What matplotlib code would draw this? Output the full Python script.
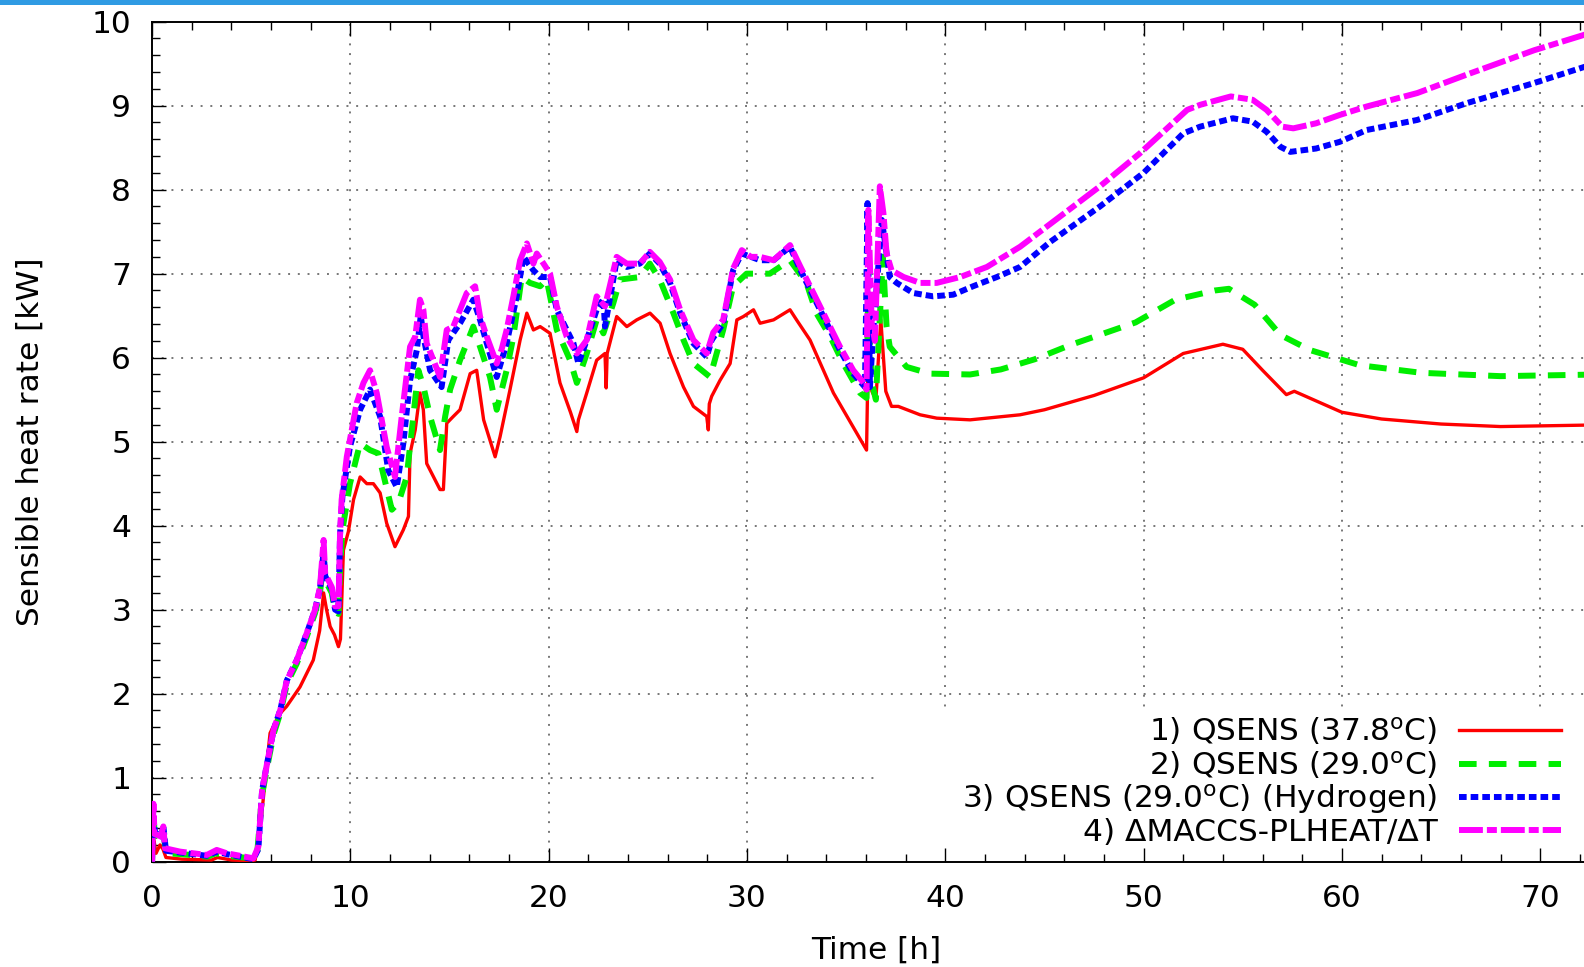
import numpy as np
import matplotlib
matplotlib.use('Agg')
import matplotlib.pyplot as plt
from matplotlib.patches import Rectangle
from matplotlib.ticker import MultipleLocator

plt.rcParams['font.family'] = ['DejaVu Sans']
plt.rcParams['mathtext.fontset'] = 'dejavusans'

# (czas [h], moc [kW])
red_pts = [
    (0, 0.0), (0.1, 0.25), (0.2, 0.1), (0.4, 0.2), (0.55, 0.15), (0.7, 0.05),
    (1.5, 0.03), (3.0, 0.02), (3.3, 0.05), (4.0, 0.02), (5.0, 0.01), (5.2, 0.02),
    (5.5, 0.5), (5.95, 1.53), (6.4, 1.75), (6.79, 1.85), (7.46, 2.08), (8.13, 2.40),
    (8.45, 2.75), (8.65, 3.2), (8.8, 3.0), (8.98, 2.80), (9.2, 2.7), (9.4, 2.56),
    (9.5, 2.65), (9.65, 3.71), (9.9, 3.93), (10.16, 4.31), (10.49, 4.58), (10.83, 4.50),
    (11.16, 4.50), (11.5, 4.39), (11.83, 4.03), (12.25, 3.75), (12.67, 3.95), (12.93, 4.11),
    (13.01, 4.86), (13.27, 5.14), (13.51, 5.58), (13.68, 5.38), (13.85, 4.74), (14.52, 4.43),
    (14.69, 4.43), (14.86, 5.22), (15.19, 5.30), (15.53, 5.38), (16.04, 5.81), (16.37, 5.85),
    (16.72, 5.26), (17.3, 4.82), (17.55, 5.06), (18.05, 5.62), (18.56, 6.21), (18.9, 6.53),
    (19.23, 6.33), (19.57, 6.37), (20.07, 6.29), (20.57, 5.70), (21.1, 5.35), (21.42, 5.12),
    (21.5, 5.26), (21.92, 5.58), (22.42, 5.97), (22.84, 6.05), (22.9, 5.64), (22.95, 6.05),
    (23.43, 6.49), (23.94, 6.37), (24.44, 6.45), (25.11, 6.53), (25.62, 6.41), (26.12, 6.05),
    (26.8, 5.65), (27.3, 5.42), (27.97, 5.30), (28.05, 5.14), (28.1, 5.45), (28.22, 5.54),
    (28.64, 5.73), (29.15, 5.93), (29.49, 6.45), (29.82, 6.49), (30.33, 6.57), (30.66, 6.41),
    (31.34, 6.45), (32.17, 6.57), (32.5, 6.45), (33.18, 6.21), (34.36, 5.58), (36.03, 4.90),
    (36.1, 5.9), (36.3, 5.6), (36.5, 5.5), (36.75, 6.45), (37.0, 5.6), (37.29, 5.42),
    (37.63, 5.42), (38.73, 5.32), (39.57, 5.28), (41.25, 5.26), (43.77, 5.32), (45, 5.38),
    (47.5, 5.55), (50, 5.76), (52, 6.05), (54, 6.16), (55, 6.1), (56, 5.85),
    (57.2, 5.56), (57.6, 5.6), (60, 5.35), (62, 5.27), (65, 5.21), (68, 5.18), (73, 5.2),
]

green_pts = [
    (0, 0.0), (0.05, 0.6), (0.15, 0.3), (0.4, 0.35), (0.55, 0.4), (0.7, 0.1),
    (1.5, 0.09), (2.8, 0.06), (3.2, 0.1), (3.8, 0.07), (5.0, 0.04), (5.3, 0.1),
    (5.55, 0.8), (5.8, 1.12), (6.13, 1.52), (6.47, 1.77), (6.8, 2.12), (7.3, 2.36),
    (7.8, 2.68), (8.22, 2.96), (8.47, 3.2), (8.65, 3.6), (8.73, 3.35), (9.06, 3.2),
    (9.23, 2.98), (9.4, 2.95), (9.48, 3.5), (9.6, 3.95), (9.98, 4.5), (10.49, 4.98),
    (10.99, 4.90), (11.41, 4.86), (12.09, 4.19), (12.42, 4.27), (12.84, 4.58), (13.1, 5.14),
    (13.43, 5.85), (13.69, 5.65), (14.02, 5.30), (14.52, 4.90), (14.78, 5.30), (15.03, 5.62),
    (15.53, 5.97), (16.2, 6.37), (16.54, 6.13), (17.04, 5.77), (17.38, 5.38), (17.88, 5.85),
    (18.22, 6.25), (18.64, 6.96), (19.06, 6.89), (19.57, 6.85), (19.9, 6.93), (20.41, 6.33),
    (21.08, 5.97), (21.42, 5.70), (21.92, 6.05), (22.42, 6.45), (22.76, 6.29), (23.26, 6.65),
    (23.6, 6.93), (24.6, 6.96), (25.1, 7.12), (25.6, 6.93), (26.29, 6.53), (26.8, 6.21),
    (27.3, 5.93), (28.14, 5.77), (28.8, 6.33), (29.3, 6.85), (29.98, 7.0), (31.15, 7.0),
    (32.17, 7.16), (33.0, 6.89), (33.5, 6.53), (34.2, 6.25), (34.86, 5.93), (35.7, 5.58),
    (36.03, 5.52), (36.1, 6.6), (36.3, 5.7), (36.5, 5.5), (36.85, 7.2), (37.04, 6.37),
    (37.2, 6.13), (38.05, 5.89), (39.23, 5.81), (41.25, 5.80), (42.8, 5.86), (44.5, 5.98),
    (46.3, 6.15), (49.6, 6.42), (51.6, 6.69), (53.6, 6.8), (54.3, 6.82), (55.6, 6.63),
    (56.9, 6.27), (58.4, 6.09), (60.9, 5.91), (64, 5.82), (68, 5.78), (73, 5.80),
]

blue_pts = [
    (0, 0.0), (0.05, 0.55), (0.15, 0.35), (0.45, 0.3), (0.57, 0.42), (0.7, 0.13),
    (1.41, 0.11), (2.76, 0.07), (3.26, 0.12), (3.77, 0.09), (5.11, 0.03), (5.36, 0.15),
    (5.55, 0.85), (5.8, 1.17), (6.13, 1.57), (6.47, 1.81), (6.8, 2.16), (7.3, 2.40),
    (7.8, 2.72), (8.22, 3.0), (8.47, 3.25), (8.65, 3.7), (8.73, 3.4), (9.06, 3.25),
    (9.23, 3.0), (9.4, 2.98), (9.48, 3.9), (9.6, 4.35), (9.98, 4.94), (10.49, 5.38),
    (10.99, 5.62), (11.5, 5.30), (11.91, 4.66), (12.34, 4.46), (12.67, 4.98), (13.01, 5.73),
    (13.35, 6.09), (13.55, 6.5), (13.69, 6.25), (14.02, 5.85), (14.6, 5.65), (14.94, 6.21),
    (15.53, 6.41), (16.2, 6.69), (16.54, 6.45), (16.88, 6.17), (17.38, 5.77), (17.88, 6.17),
    (18.39, 6.73), (18.73, 7.2), (19.23, 7.04), (19.57, 6.96), (20.07, 6.96), (20.41, 6.57),
    (21.25, 6.17), (21.5, 5.93), (21.92, 6.21), (22.42, 6.57), (22.76, 6.7), (22.84, 6.37),
    (23.43, 7.16), (23.94, 7.08), (24.6, 7.12), (25.1, 7.24), (25.6, 7.12), (26.12, 6.89),
    (26.63, 6.53), (27.3, 6.17), (27.97, 6.01), (28.22, 6.21), (28.8, 6.41), (29.3, 7.04),
    (29.74, 7.24), (30.66, 7.16), (31.34, 7.16), (32.17, 7.32), (32.7, 7.04), (33.35, 6.73),
    (34.02, 6.41), (34.69, 6.09), (35.36, 5.81), (35.95, 5.65), (36.08, 7.84), (36.2, 5.65),
    (36.37, 6.33), (36.7, 7.32), (36.8, 7.64), (37.04, 7.24), (37.2, 6.96), (37.55, 6.89),
    (38.38, 6.77), (39.39, 6.73), (40.4, 6.75), (41.4, 6.85), (42.6, 6.96), (43.77, 7.08),
    (45.3, 7.38), (47.8, 7.8), (50.0, 8.2), (52.0, 8.67), (52.85, 8.75), (54.5, 8.85),
    (55.5, 8.81), (56.2, 8.69), (56.9, 8.51), (57.4, 8.45), (58.7, 8.49), (59.9, 8.57),
    (61.25, 8.71), (63.8, 8.83), (66.3, 9.03), (69.7, 9.27), (73, 9.52),
]

magenta_pts = [
    (0, 0.0), (0.07, 0.69), (0.12, 0.33), (0.45, 0.3), (0.57, 0.42), (0.65, 0.16),
    (1.41, 0.12), (2.76, 0.08), (3.26, 0.14), (3.77, 0.10), (5.11, 0.04), (5.36, 0.18),
    (5.55, 0.85), (5.8, 1.17), (6.13, 1.57), (6.47, 1.81), (6.8, 2.16), (7.3, 2.40),
    (7.8, 2.72), (8.22, 3.0), (8.47, 3.27), (8.65, 3.83), (8.73, 3.43), (9.06, 3.27),
    (9.23, 3.04), (9.4, 3.04), (9.48, 3.91), (9.56, 4.31), (9.82, 4.82), (10.32, 5.46),
    (10.66, 5.70), (10.99, 5.85), (11.33, 5.58), (11.83, 4.94), (12.25, 4.58), (12.59, 5.30),
    (13.01, 6.13), (13.27, 6.25), (13.51, 6.69), (13.68, 6.57), (13.85, 6.17), (14.19, 5.97),
    (14.52, 5.77), (14.86, 6.33), (15.19, 6.37), (15.53, 6.57), (15.87, 6.77), (16.29, 6.85),
    (16.54, 6.49), (16.88, 6.25), (17.38, 5.93), (17.63, 6.1), (17.88, 6.33), (18.22, 6.73),
    (18.56, 7.16), (18.9, 7.36), (19.23, 7.12), (19.4, 7.24), (19.74, 7.12), (20.07, 7.0),
    (20.41, 6.61), (20.91, 6.25), (21.42, 6.05), (21.92, 6.21), (22.42, 6.73), (22.84, 6.61),
    (23.43, 7.2), (23.94, 7.12), (24.6, 7.12), (25.1, 7.26), (25.6, 7.14), (26.12, 6.93),
    (26.63, 6.57), (27.3, 6.21), (27.97, 6.05), (28.3, 6.3), (28.8, 6.45), (29.3, 7.06),
    (29.74, 7.28), (30.2, 7.2), (30.66, 7.2), (31.34, 7.16), (32.17, 7.34), (32.7, 7.08),
    (33.35, 6.77), (34.02, 6.45), (34.69, 6.13), (35.36, 5.85), (35.95, 5.68), (36.03, 5.62),
    (36.12, 7.76), (36.29, 6.41), (36.45, 6.2), (36.7, 8.04), (36.88, 7.72), (37.04, 7.24),
    (37.29, 7.04), (37.9, 6.96), (38.73, 6.89), (39.57, 6.89), (40.75, 6.96), (42.1, 7.08),
    (43.77, 7.32), (47.8, 8.04), (49.8, 8.43), (52.2, 8.95), (52.85, 9.01), (54.4, 9.11),
    (55.5, 9.07), (56.2, 8.95), (57.0, 8.75), (57.55, 8.73), (58.7, 8.79), (59.9, 8.89),
    (61.25, 8.99), (63.8, 9.15), (66.3, 9.37), (69.7, 9.66), (73, 9.90),
]

labels = [
    '1) QSENS (37.8$^{\\mathrm{o}}$C)',
    '2) QSENS (29.0$^{\\mathrm{o}}$C)',
    '3) QSENS (29.0$^{\\mathrm{o}}$C) (Hydrogen)',
    '4) \u0394MACCS-PLHEAT/\u0394T',
]

FS = 22.5

fig = plt.figure(figsize=(15.84, 9.67), dpi=100)
ax = fig.add_axes([0.0960, 0.1089, 0.9139, 0.8687])

# siatka kropkowana pod krzywymi
for yy in range(1, 10):
    ax.axhline(yy, color='#777777', lw=1.4, ls=(0, (1, 4)), zorder=1)
for xx in range(10, 80, 10):
    ax.axvline(xx, color='#777777', lw=1.4, ls=(0, (1, 4)), zorder=1)
# tlo legendy zaslania siatke
ax.add_patch(Rectangle((0.5, 0.0), 0.5, 0.178, transform=ax.transAxes,
                       facecolor='white', edgecolor='none', zorder=1.5))

red = np.array(red_pts).T
green = np.array(green_pts).T
blue = np.array(blue_pts).T
mag = np.array(magenta_pts).T

ax.plot(red[0], red[1], color='#ff0000', lw=2.4, label=labels[0], zorder=3)
ax.plot(green[0], green[1], color='#00ee00', lw=4.3, ls=(0, (2.95, 2.05)),
        label=labels[1], zorder=4)
ax.plot(blue[0], blue[1], color='#0000ff', lw=4.3, ls=(0, (1.28, 0.67)),
        label=labels[2], zorder=5)
ax.plot(mag[0], mag[1], color='#ff00ff', lw=4.3, ls=(0, (4.0, 0.67, 1.67, 0.67)),
        label=labels[3], zorder=6)

ax.set_xlim(0, 73)
ax.set_ylim(0, 10)
ax.xaxis.set_major_locator(MultipleLocator(10))
ax.xaxis.set_minor_locator(MultipleLocator(2))
ax.yaxis.set_major_locator(MultipleLocator(1))
ax.yaxis.set_minor_locator(MultipleLocator(0.2))
ax.tick_params(which='both', direction='in', top=True, right=True, labelsize=FS, width=1.0)
ax.tick_params(which='major', length=10)
ax.tick_params(which='minor', length=5.5)
ax.tick_params(axis='x', pad=16)
ax.tick_params(axis='y', pad=15)
for sp in ax.spines.values():
    sp.set_linewidth(1.4)

ax.set_xlabel('Time [h]', fontsize=FS)
ax.set_ylabel('Sensible heat rate [kW]', fontsize=FS)
ax.xaxis.set_label_coords(0.5, -0.088)
ax.yaxis.set_label_coords(-0.074, 0.5)

leg = ax.legend(loc='lower right', bbox_to_anchor=(0.9905, -0.012), markerfirst=False,
                frameon=False, fontsize=FS, handlelength=3.25, handletextpad=0.7,
                labelspacing=0.05, borderpad=0.3)
for t in leg.get_texts():
    t.set_ha('right')
leg.set_zorder(10)

# pasek okna u gory
fig.add_artist(Rectangle((0, 1 - 5 / 967), 1, 5 / 967, transform=fig.transFigure,
                         facecolor='#2f9be3', edgecolor='none'))

fig.savefig('out.png', dpi=100)
